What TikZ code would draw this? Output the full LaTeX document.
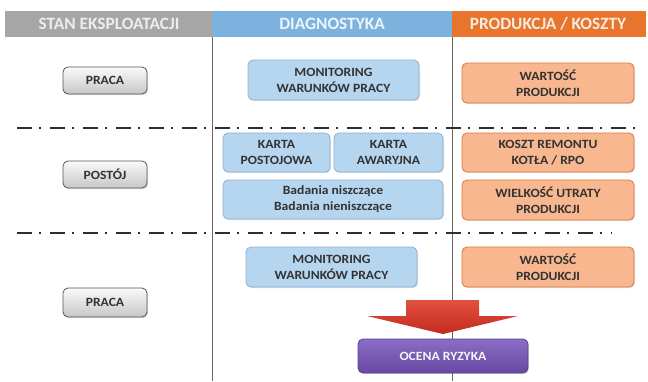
\documentclass[tikz,border=0pt]{standalone}
\usepackage{fontspec}
\setmainfont{Carlito}
\newfontfamily\boxfont[FakeStretch=1.08]{Carlito}
\usetikzlibrary{shadows}
\definecolor{hdgray}{HTML}{A6A6A6}
\definecolor{hdblue}{HTML}{7DB2DE}
\definecolor{hdorange}{HTML}{E8752C}
\definecolor{txtdark}{HTML}{333333}
\definecolor{bluefill}{HTML}{B6D5EF}
\definecolor{blueline}{HTML}{8AB2D6}
\definecolor{orfill}{HTML}{F8B78E}
\definecolor{orline}{HTML}{D9793E}
\definecolor{grayline}{HTML}{555555}
\definecolor{purtop}{HTML}{8B6CC6}
\definecolor{purbot}{HTML}{6749A2}
\definecolor{purline}{HTML}{55408A}
\definecolor{arrtop}{HTML}{E2503E}
\definecolor{arrbot}{HTML}{C42A20}
\tikzset{
  x=1pt, y=-1pt,
  basebox/.style={rounded corners=5pt, line width=0.8pt, align=center, inner sep=0pt,
    font=\boxfont\fontsize{12.6}{16}\selectfont\bfseries, text=txtdark,
    drop shadow={opacity=0.25, shadow xshift=1pt, shadow yshift=-1.2pt}},
  graybox/.style={basebox, draw=grayline, top color=white!96!gray, bottom color=black!22},
  bluebox/.style={basebox, draw=blueline, fill=bluefill},
  orbox/.style={basebox, draw=orline, fill=orfill},
  purbox/.style={basebox, draw=purline, top color=purtop, bottom color=purbot, text=white!92!purtop},
  hdtext/.style={font=\fontsize{17.3}{17}\selectfont\bfseries},
  sepline/.style={line width=1.4pt, draw=black!82, dash pattern=on 15pt off 7pt on 2pt off 9pt},
  colline/.style={line width=0.7pt, draw=black!60}
}
\newcommand{\bx}[7]{\node[#1, minimum width={#5-#3}, minimum height={#6-#4}] (#2) at ({(#3+#5)/2},{(#4+#6)/2}) {#7};}
\begin{document}
\begin{tikzpicture}
\useasboundingbox (0,0) rectangle (648,381);
% header
\fill[hdgray] (5,11) rectangle (212,37);
\fill[hdblue] (212,11) rectangle (452,37);
\fill[hdorange] (452,11) rectangle (646,37);
\node[hdtext, text=white!93!black] (h1) at (109,24) {STAN EKSPLOATACJI};
\node[hdtext, text=white!85!hdblue] (h2) at (332,24) {DIAGNOSTYKA};
\node[hdtext, text=white!85!hdorange] (h3) at (548,24) {PRODUKCJA / KOSZTY};
% column lines
\coordinate (c1t) at (212,37); \coordinate (c1b) at (212,381);
\coordinate (c2t) at (452,37); \coordinate (c2b) at (452,381);
\draw[colline] (c1t) -- (c1b);
\draw[colline] (c2t) -- (c2b);
% separators
\coordinate (s1a) at (17,128); \coordinate (s1b) at (638,128);
\coordinate (s2a) at (17,233); \coordinate (s2b) at (612,233);
\draw[sepline] (s1a) -- (s1b);
\draw[sepline] (s2a) -- (s2b);
% left boxes
\bx{graybox}{praca1}{63}{67}{147}{94}{PRACA}
\bx{graybox}{postoj}{63}{161}{147}{188}{POSTÓJ}
\bx{graybox}{praca2}{63}{288}{147}{317}{PRACA}
% diagnostics
\bx{bluebox}{mon1}{248}{60}{419}{100}{MONITORING\\WARUNKÓW PRACY}
\bx{bluebox}{kpost}{223}{133}{330}{172}{KARTA\\POSTOJOWA}
\bx{bluebox}{kaw}{334}{133}{443}{172}{KARTA\\AWARYJNA}
\bx{bluebox}{bad}{223}{180}{443}{219}{Badania niszczące\\Badania nieniszczące}
\bx{bluebox}{mon2}{246}{247}{417}{287}{MONITORING\\WARUNKÓW PRACY}
% production
\bx{orbox}{wart1}{462}{63}{634}{103}{WARTOŚĆ\\PRODUKCJI}
\bx{orbox}{koszt}{462}{133}{634}{172}{KOSZT REMONTU\\KOTŁA / RPO}
\bx{orbox}{wielk}{462}{180}{634}{220}{WIELKOŚĆ UTRATY\\PRODUKCJI}
\bx{orbox}{wart2}{462}{247}{634}{287}{WARTOŚĆ\\PRODUKCJI}
% result
\bx{purbox}{ocena}{358}{339}{528}{373}{OCENA RYZYKA}
% big arrow
\shade[top color=arrtop, bottom color=arrbot]
  (406,300) -- (479,300) -- (479,316) -- (518,316) -- (443,334) -- (367,316) -- (406,316) -- cycle;
\end{tikzpicture}
\end{document}
